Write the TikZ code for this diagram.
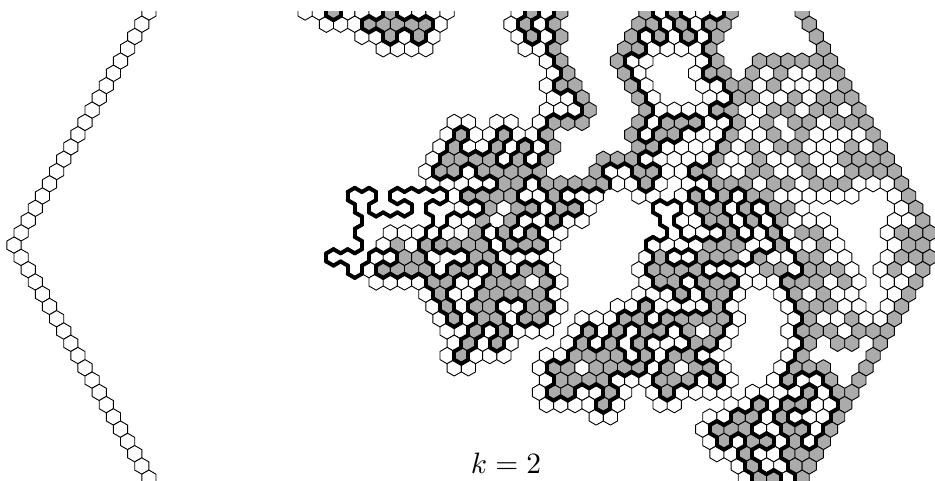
\documentclass[tikz,border=0pt]{standalone}
\usepackage{tikz}
\tikzset{
    hexwhite/.style={draw=black,fill=white,line width=0.9pt,line join=round},
    hexgrey/.style={draw=black,fill=black!33,line width=0.9pt,line join=round},
    hexedge/.style={black,line width=4pt,line cap=round}
}
% one hexagon at column #1, row #2
\newcommand{\hexcell}[3]{\draw[#3] (#1-1,#2-.3333) -- (#1,#2-.6667) -- (#1+1,#2-.3333) -- (#1+1,#2+.3333) -- (#1,#2+.6667) -- (#1-1,#2+.3333) -- cycle;}
% one run of cells: w g white and grey on the two sides of the path, o plain white,
% v white on the grey side, h grey on the white side, a b empty on either side
\newcount\hexq
\newcommand{\hexmark}[1]{\expandafter\gdef\csname hx\the\hexq/\hexr\endcsname{#1}}
\def\hexscan#1{\ifx#1\relax\else
    \if#1w\hexcell{\the\hexq}{\hexr}{hexwhite}\hexmark{1}\fi
    \if#1g\hexcell{\the\hexq}{\hexr}{hexgrey}\hexmark{2}\fi
    \if#1o\hexcell{\the\hexq}{\hexr}{hexwhite}\fi
    \if#1x\hexcell{\the\hexq}{\hexr}{hexgrey}\fi
    \if#1v\hexcell{\the\hexq}{\hexr}{hexwhite}\hexmark{2}\fi
    \if#1h\hexcell{\the\hexq}{\hexr}{hexgrey}\hexmark{1}\fi
    \if#1a\hexmark{1}\fi
    \if#1b\hexmark{2}\fi
    \advance\hexq by 2
    \expandafter\hexscan\fi}
\newcommand{\hexrow}[3]{\def\hexr{#1}\hexq=#2\relax\hexscan#3\relax}
\def\hexside#1#2{\ifcsname hx#1/#2\endcsname\csname hx#1/#2\endcsname\else 0\fi}

\begin{document}
\begin{tikzpicture}[x=7.1pt,y=-12.27pt]
    \useasboundingbox (-0.972,-0.978) rectangle (130.72,38.22);
    \begin{scope}
    \clip (-0.972,-0.04) rectangle (130.72,38.22);

    % left strip
    \foreach \r in {0,...,38} {
        \pgfmathtruncatemacro\q{1+abs(\r-19)}
        \hexcell{\q}{\r}{hexwhite}
    }

    % cells
    \hexrow{0}{42}{wwgwwwgwwww}\hexrow{0}{72}{wgwg}\hexrow{0}{90}{gwgwwwg}\hexrow{0}{112}{x}
    \hexrow{1}{45}{wwwgggggw}\hexrow{1}{71}{wgwg}\hexrow{1}{89}{ggwgwgg}\hexrow{1}{113}{x}
    \hexrow{2}{50}{wwgwgw}\hexrow{2}{72}{wgwg}\hexrow{2}{88}{gwgwgwg}\hexrow{2}{114}{x}
    \hexrow{3}{53}{wwww}\hexrow{3}{73}{wwg}\hexrow{3}{87}{ggwwwwg}\hexrow{3}{115}{x}
    \hexrow{4}{76}{wg}\hexrow{4}{86}{gww}\hexrow{4}{98}{wg}\hexrow{4}{106}{gggggg}
    \hexrow{5}{77}{wg}\hexrow{5}{87}{gw}\hexrow{5}{97}{wgg}\hexrow{5}{105}{gogoogg}
    \hexrow{6}{76}{wgg}\hexrow{6}{88}{gw}\hexrow{6}{98}{wwggogoooog}
    \hexrow{7}{77}{wwg}\hexrow{7}{89}{gw}\hexrow{7}{99}{wwggoogoggg}
    \hexrow{8}{76}{wwwg}\hexrow{8}{90}{gwwwwggooggoggog}
    \hexrow{9}{63}{ww}\hexrow{9}{69}{ww}\hexrow{9}{75}{wggg}\hexrow{9}{89}{gwgggwwgog}\hexrow{9}{111}{ggoggg}
    \hexrow{10}{62}{wgwwgwwg}\hexrow{10}{88}{gwggwwwgoog}\hexrow{10}{112}{goooog}
    \hexrow{11}{61}{wgwwgwgwg}\hexrow{11}{89}{ggwwwwgogoggooogog}
    \hexrow{12}{60}{wggggwgwg}\hexrow{12}{84}{gggwwwwwgoogoogoogggg}
    \hexrow{13}{59}{wggwggggg}\hexrow{13}{83}{gwwggwwggooggoogoogggg}
    \hexrow{14}{48}{aaaaaawwwwwggwggggg}\hexrow{14}{86}{wwgw}\hexrow{14}{96}{wwgggoggogggooog}
    \hexrow{15}{47}{abbabbbbwggggwwgwww}\hexrow{15}{89}{wwawgwgwggoooooo}\hexrow{15}{125}{og}
    \hexrow{16}{48}{abaaabaawwgoggwggw}\hexrow{16}{90}{abbwggwgwggo}\hexrow{16}{126}{og}
    \hexrow{17}{49}{abbbbbavvgogwwgww}\hexrow{17}{91}{abwwggwgwgooo}\hexrow{17}{125}{oog}
    \hexrow{18}{48}{abbvvvwvvgwgwgww}\hexrow{18}{90}{aabwwwgwvhvggo}\hexrow{18}{124}{oggg}
    \hexrow{19}{45}{aaabvgvhggggwgggw}\hexrow{19}{89}{avvvvgggvvhvogo}\hexrow{19}{125}{ogg}
    \hexrow{20}{44}{abbbwwggwaaggwwww}\hexrow{20}{90}{wgwwgggvhwwggoo}\hexrow{20}{124}{oggg}
    \hexrow{21}{45}{aabwggggaggwgwggw}\hexrow{21}{89}{wggggwwwwhhwgggo}\hexrow{21}{123}{ogog}
    \hexrow{22}{48}{aawwwwggwwgggogw}\hexrow{22}{90}{wggwgggwwwgggogo}\hexrow{22}{124}{oog}
    \hexrow{23}{59}{wgwwgggggw}\hexrow{23}{89}{wwwgwggw}\hexrow{23}{109}{wgogoo}\hexrow{23}{125}{og}
    \hexrow{24}{60}{wgwggwwggw}\hexrow{24}{86}{wwgwwwwgw}\hexrow{24}{110}{wgggoo}\hexrow{24}{124}{og}
    \hexrow{25}{61}{wgwggwggw}\hexrow{25}{81}{wwwggwgggggw}\hexrow{25}{111}{wgoogoog}
    \hexrow{26}{62}{wwgwgwww}\hexrow{26}{80}{wgwgaggwgogw}\hexrow{26}{110}{wgggoggg}
    \hexrow{27}{63}{wgwgw}\hexrow{27}{79}{wgwgagwwwggw}\hexrow{27}{111}{wg}\hexrow{27}{117}{gg}\hexrow{27}{123}{g}
    \hexrow{28}{62}{wgwww}\hexrow{28}{76}{wwggggagwggww}\hexrow{28}{110}{wg}\hexrow{28}{122}{g}
    \hexrow{29}{63}{ww}\hexrow{29}{75}{wggoggggwgoggw}\hexrow{29}{109}{wggg}\hexrow{29}{121}{g}
    \hexrow{30}{76}{wggggwwwgggwgw}\hexrow{30}{108}{wgwwg}\hexrow{30}{120}{g}
    \hexrow{31}{75}{wggwwgw}\hexrow{31}{91}{wgwwww}\hexrow{31}{105}{wwwwgwgg}
    \hexrow{32}{76}{wwwwgw}\hexrow{32}{92}{ww}\hexrow{32}{102}{wwgwggwwg}
    \hexrow{33}{83}{ww}\hexrow{33}{99}{wwggwgwwwg}
    \hexrow{34}{98}{wgggwwggwg}
    \hexrow{35}{99}{wgwggwgwg}
    \hexrow{36}{100}{wwgwwggg}
    \hexrow{37}{103}{wgwwgg}
    \hexrow{38}{104}{wggwg}

    % path between the two sides
    \foreach \r in {0,...,38} {
        \foreach \i in {20,...,66} {
            \edef\q{\the\numexpr 2*\i+\ifodd\r\space 1\else 0\fi\relax}
            \edef\qe{\the\numexpr\q+2\relax}
            \edef\qr{\the\numexpr\q+1\relax}
            \edef\ql{\the\numexpr\q-1\relax}
            \edef\rn{\the\numexpr\r+1\relax}
            \ifnum\numexpr\hexside\q\r*\hexside\qe\r\relax=2
                \draw[hexedge] (\q+1,\r-.3333) -- (\q+1,\r+.3333);
            \fi
            \ifnum\numexpr\hexside\q\r*\hexside\qr\rn\relax=2
                \draw[hexedge] (\q+1,\r+.3333) -- (\q,\r+.6667);
            \fi
            \ifnum\numexpr\hexside\q\r*\hexside\ql\rn\relax=2
                \draw[hexedge] (\q-1,\r+.3333) -- (\q,\r+.6667);
            \fi
        }
    }
    \end{scope}

    % label
    \node[scale=2.95] (klabel) at (70.3,36.76) {$k=2$};
\end{tikzpicture}
\end{document}
